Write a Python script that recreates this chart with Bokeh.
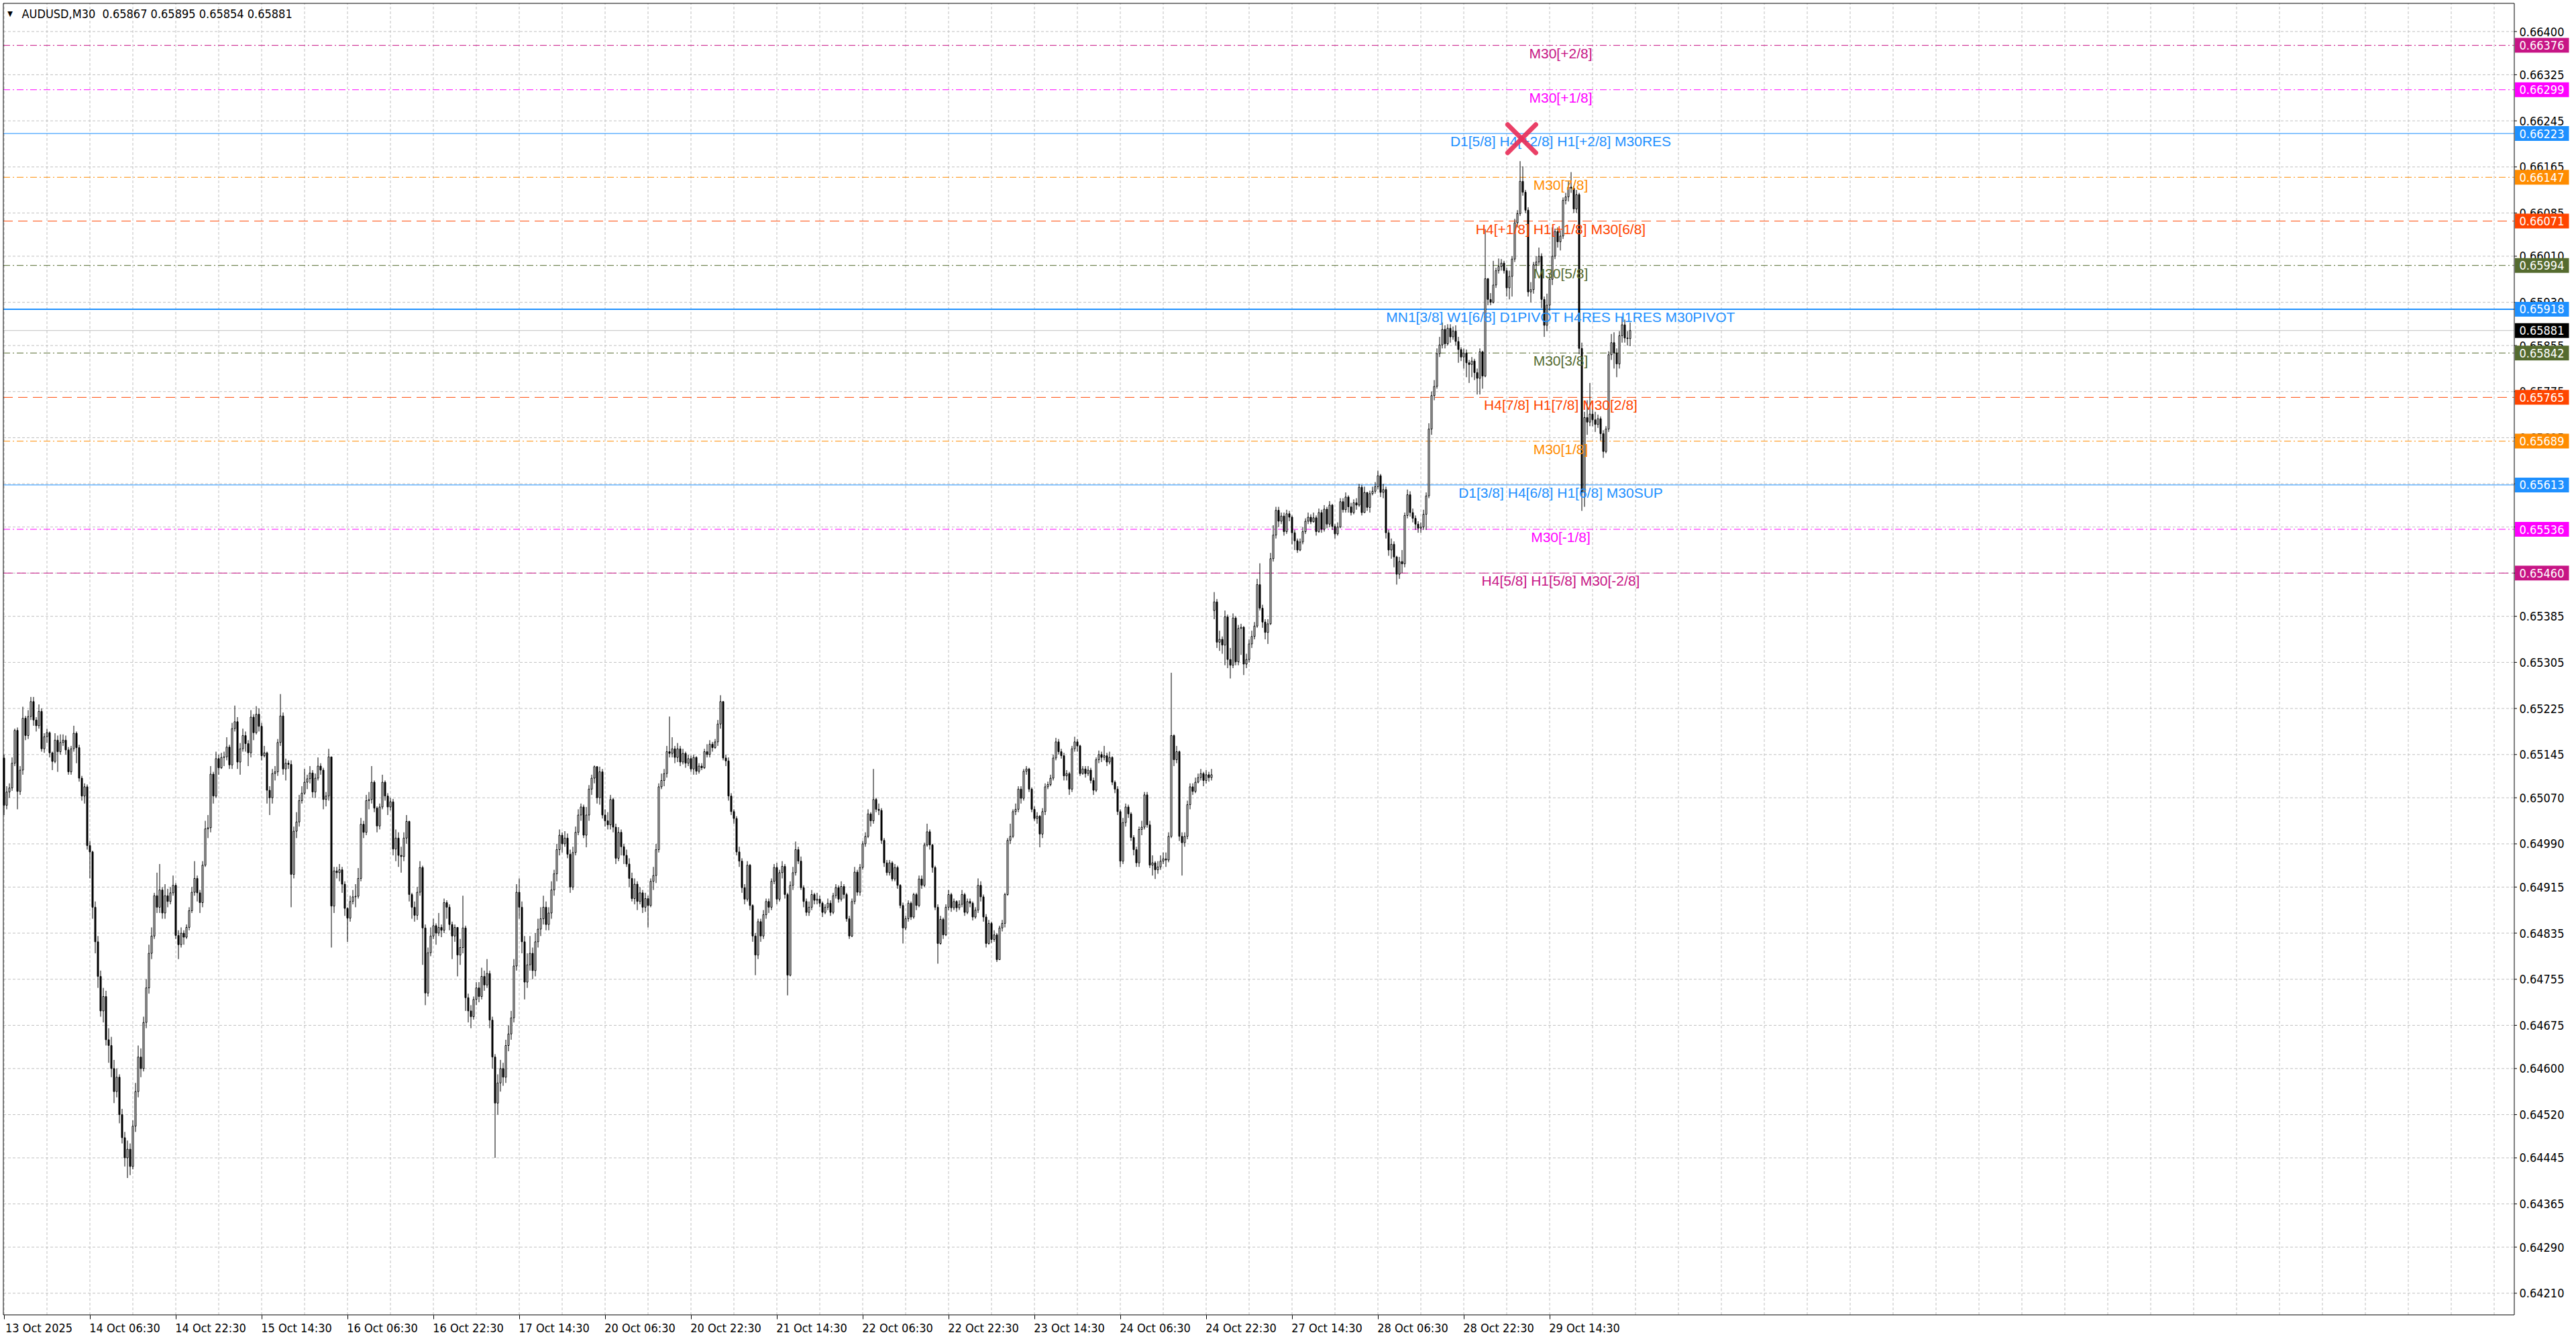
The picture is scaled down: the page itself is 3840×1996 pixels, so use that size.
from bokeh.plotting import figure
from bokeh.models import ColumnDataSource, FixedTicker
from bokeh.embed import file_html
from bokeh.resources import INLINE
from bokeh.core.properties import value

# ------------------------------------------------------------------ data
header_symbol = "AUDUSD,M30"
header_ohlc = ["0.65867", "0.65895", "0.65854", "0.65881"]

x_tick_labels = ["13 Oct 2025", "14 Oct 06:30", "14 Oct 22:30", "15 Oct 14:30", "16 Oct 06:30",
                 "16 Oct 22:30", "17 Oct 14:30", "20 Oct 06:30", "20 Oct 22:30", "21 Oct 14:30",
                 "22 Oct 06:30", "22 Oct 22:30", "23 Oct 14:30", "24 Oct 06:30", "24 Oct 22:30",
                 "27 Oct 14:30", "28 Oct 06:30", "28 Oct 22:30", "29 Oct 14:30"]
bars_per_x_label = 32
bars_per_grid = 16

price_ticks = [0.66400, 0.66325, 0.66245, 0.66165, 0.66085, 0.66010, 0.65930, 0.65855, 0.65775,
               0.65695, 0.65615, 0.65540, 0.65460, 0.65385, 0.65305, 0.65225, 0.65145, 0.65070,
               0.64990, 0.64915, 0.64835, 0.64755, 0.64675, 0.64600, 0.64520, 0.64445, 0.64365,
               0.64290, 0.64210]

level_prices = [0.66376, 0.66299, 0.66223, 0.66147, 0.66071, 0.65994, 0.65918,
                0.65842, 0.65765, 0.65689, 0.65613, 0.65536, 0.65460]
level_labels = ["M30[+2/8]", "M30[+1/8]", "D1[5/8] H4[+2/8] H1[+2/8] M30RES", "M30[7/8]",
                "H4[+1/8] H1[+1/8] M30[6/8]", "M30[5/8]",
                "MN1[3/8] W1[6/8] D1PIVOT H4RES H1RES M30PIVOT", "M30[3/8]",
                "H4[7/8] H1[7/8] M30[2/8]", "M30[1/8]", "D1[3/8] H4[6/8] H1[6/8] M30SUP",
                "M30[-1/8]", "H4[5/8] H1[5/8] M30[-2/8]"]
level_colors = ["#C71585", "#FF00FF", "#1E90FF", "#FF8C00", "#FF4500", "#556B2F", "#1E90FF",
                "#556B2F", "#FF4500", "#FF8C00", "#1E90FF", "#FF00FF", "#C71585"]
level_dashes = ["10 4 2 4", "10 4 2 4", "solid", "10 4 2 4", "14 8", "10 4 2 4", "solid",
                "10 4 2 4", "14 8", "10 4 2 4", "solid", "10 4 2 4", "14 6"]
level_widths = [1, 1, 1, 1, 1, 1, 2, 1, 1, 1, 1, 1, 1]

current_price = 0.65881
marker_bar = 565.6
marker_price = 0.66214

# M30 candles, prices in 1e-5 units; open of each bar = previous close
week1_open = 65139
week1_close = [
    65057, 65080, 65087, 65130, 65187, 65081, 65118, 65208, 65178, 65211, 65237, 65205, 65195, 65220, 65155, 65176,
    65183, 65148, 65133, 65170, 65150, 65166, 65170, 65153, 65115, 65155, 65182, 65157, 65104, 65073, 65089, 64987,
    64976, 64880, 64820, 64760, 64700, 64725, 64650, 64640, 64600, 64560, 64585, 64520, 64480, 64445, 64460, 64430,
    64500, 64560, 64620, 64600, 64680, 64740, 64800, 64830, 64900, 64880, 64910, 64870, 64900, 64890, 64905, 64918,
    64831, 64815, 64835, 64828, 64845, 64874, 64906, 64930, 64905, 64888, 64953, 65016, 65018, 65111, 65073, 65138,
    65122, 65140, 65141, 65158, 65127, 65190, 65202, 65132, 65155, 65178, 65164, 65148, 65210, 65183, 65215, 65194,
    65143, 65148, 65083, 65070, 65112, 65115, 65166, 65212, 65120, 65130, 65128, 64937, 65012, 65028, 65065, 65078,
    65097, 65103, 65113, 65080, 65104, 65125, 65118, 65067, 65073, 65141, 64882, 64943, 64940, 64945, 64920, 64878,
    64861, 64890, 64898, 64899, 64930, 65024, 65010, 65065, 65067, 65097, 65052, 65021, 65054, 65097, 65073, 65054,
    65063, 64981, 65000, 64970, 64968, 65000, 65029, 64902, 64880, 64866, 64906, 64949, 64844, 64731, 64801, 64830,
    64848, 64835, 64845, 64840, 64888, 64880, 64850, 64830, 64845, 64797, 64810, 64844, 64723, 64700, 64690, 64720,
    64740, 64725, 64760, 64745, 64765, 64684, 64620, 64540, 64575, 64600, 64585, 64640, 64660, 64688, 64778, 64906,
    64880, 64820, 64750, 64780, 64800, 64770, 64820, 64842, 64860, 64880, 64850, 64870, 64910, 64938, 64980, 65005,
    64990, 65000, 64972, 64915, 64975, 65010, 65040, 65054, 65005, 65040, 65085, 65104, 65124, 65070, 65115, 65040,
    65030, 65023, 65067, 65019, 64965, 65010, 64985, 64970, 64955, 64930, 64895, 64920, 64890, 64905, 64880, 64895,
    64883, 64925, 64935,
    64980, 65089, 65100, 65112, 65150, 65147, 65155, 65140, 65155, 65132, 65147, 65130, 65138, 65120, 65140, 65116,
    65125, 65122, 65150, 65145, 65163, 65157, 65167, 65198, 65237, 65139, 65134, 65073, 65046, 65034, 64976, 64960,
    64914, 64894, 64953, 64883, 64830, 64797, 64855, 64830, 64867, 64890, 64880, 64925, 64949, 64894, 64940, 64951,
    64902, 64762, 64918, 64940, 64980, 64960, 64914, 64890, 64871, 64880, 64902, 64892, 64894, 64887, 64871, 64880,
    64887,
    64871, 64900, 64914, 64894, 64916, 64902, 64860, 64830, 64890, 64941, 64906, 64949, 64990, 65003, 65042, 65030,
    65067, 65050, 65048, 64996, 64957, 64940, 64957, 64929, 64949, 64918, 64883, 64844, 64860, 64887, 64863, 64902,
    64883, 64929, 64918, 64988, 65011, 64988, 64949, 64880, 64817, 64859, 64832, 64880, 64902, 64879, 64890, 64879,
    64885, 64902, 64871, 64890, 64887, 64863, 64875, 64918, 64898, 64863, 64817, 64852, 64824, 64832, 64789, 64844,
    64852, 64902, 64996, 65003, 65046, 65050, 65085, 65069, 65116, 65120, 65085, 65050, 65034, 65038, 65007, 65046,
    65089, 65093, 65104, 65139, 65167, 65150, 65143, 65108, 65112, 65085, 65155, 65167, 65160, 65112, 65120, 65112,
    65118, 65100, 65083, 65136, 65145, 65140, 65143, 65132, 65140, 65097, 65085, 65046, 64960, 65027, 65054, 65042,
    65001, 64980, 64957, 65015, 65019, 65075, 65023, 64953, 64957, 64945, 64950, 64960, 64964, 64962, 65003, 65178,
    65136, 65150, 65003, 64992, 65003, 65058, 65089, 65081, 65097, 65105, 65112, 65100,
    65110, 65105, 65110]
week1_high = [
    65145, 65090, 65095, 65140, 65190, 65192, 65125, 65228, 65212, 65222, 65245, 65245, 65210, 65232, 65225, 65182,
    65190, 65185, 65150, 65182, 65178, 65180, 65180, 65178, 65158, 65160, 65195, 65185, 65162, 65108, 65095, 65093,
    64995, 64978, 64890, 64830, 64770, 64740, 64735, 64670, 64655, 64615, 64600, 64590, 64530, 64490, 64475, 64470,
    64510, 64575, 64640, 64635, 64690, 64755, 64815, 64845, 64905, 64940, 64955, 64915, 64920, 64912, 64915, 64935,
    64922, 64840, 64845, 64840, 64850, 64880, 64915, 64960, 64935, 64910, 64960, 65030, 65040, 65125, 65115, 65150,
    65145, 65148, 65150, 65175, 65162, 65200, 65230, 65210, 65165, 65190, 65185, 65170, 65222, 65215, 65229, 65225,
    65200, 65160, 65150, 65090, 65120, 65125, 65172, 65250, 65218, 65138, 65135, 65135, 65020, 65045, 65075, 65090,
    65120, 65110, 65125, 65118, 65112, 65140, 65130, 65122, 65080, 65155, 65140, 64950, 64950, 64955, 64950, 64925,
    64880, 64900, 64910, 64920, 64948, 65035, 65030, 65075, 65080, 65125, 65100, 65055, 65060, 65110, 65100, 65078,
    65070, 65068, 65015, 65010, 64985, 65010, 65040, 65030, 64905, 64890, 64915, 64960, 64952, 64850, 64810, 64845,
    64860, 64852, 64870, 64850, 64895, 64892, 64885, 64855, 64850, 64840, 64825, 64900, 64848, 64730, 64710, 64725,
    64750, 64750, 64775, 64770, 64790, 64770, 64690, 64625, 64590, 64615, 64610, 64650, 64675, 64700, 64790, 64920,
    64930, 64890, 64830, 64800, 64830, 64810, 64835, 64860, 64880, 64900, 64890, 64880, 64925, 64945, 64990, 65015,
    65010, 65012, 65008, 64980, 64985, 65020, 65050, 65060, 65058, 65054, 65092, 65110, 65126, 65125, 65124, 65120,
    65050, 65045, 65075, 65070, 65025, 65019, 65015, 64990, 64980, 64965, 64940, 64930, 64925, 64915, 64910, 64905,
    64900, 64930, 64950,
    64990, 65095, 65112, 65120, 65160, 65211, 65175, 65160, 65165, 65160, 65155, 65150, 65145, 65143, 65145, 65142,
    65130, 65130, 65155, 65163, 65170, 65167, 65172, 65205, 65248, 65237, 65145, 65140, 65078, 65050, 65038, 64985,
    64965, 64920, 64960, 64955, 64885, 64835, 64860, 64860, 64875, 64895, 64895, 64930, 64955, 64957, 64945, 64960,
    64955, 64905, 64925, 64950, 64994, 64985, 64968, 64918, 64895, 64890, 64910, 64905, 64905, 64900, 64890, 64885,
    64895,
    64892, 64905, 64920, 64918, 64925, 64920, 64905, 64865, 64895, 64950, 64945, 64955, 64995, 65010, 65050, 65045,
    65120, 65070, 65060, 65052, 65000, 64962, 64962, 64960, 64955, 64952, 64920, 64888, 64865, 64892, 64890, 64905,
    64905, 64935, 64935, 64992, 65025, 65015, 64990, 64952, 64885, 64865, 64862, 64885, 64910, 64905, 64895, 64892,
    64892, 64910, 64905, 64895, 64895, 64890, 64880, 64930, 64925, 64902, 64868, 64858, 64855, 64840, 64835, 64848,
    64858, 64905, 65000, 65025, 65050, 65060, 65090, 65090, 65120, 65125, 65122, 65088, 65055, 65045, 65040, 65052,
    65095, 65098, 65110, 65145, 65174, 65172, 65155, 65148, 65118, 65115, 65160, 65176, 65172, 65162, 65125, 65125,
    65125, 65122, 65105, 65140, 65152, 65150, 65160, 65148, 65150, 65142, 65100, 65090, 65050, 65035, 65060, 65058,
    65045, 65005, 64985, 65020, 65030, 65080, 65080, 65030, 64970, 64960, 64960, 64970, 64975, 64975, 65010, 65287,
    65180, 65160, 65152, 65010, 65010, 65065, 65095, 65095, 65105, 65112, 65120, 65115,
    65118, 65115, 65120]
week1_low = [
    65040, 65050, 65070, 65082, 65125, 65050, 65075, 65110, 65170, 65172, 65205, 65195, 65185, 65190, 65150, 65148,
    65165, 65140, 65118, 65130, 65115, 65145, 65160, 65145, 65110, 65110, 65150, 65130, 65098, 65065, 65060, 64980,
    64930, 64860, 64800, 64740, 64690, 64680, 64640, 64610, 64585, 64540, 64550, 64505, 64470, 64430, 64410, 64415,
    64425, 64490, 64550, 64585, 64595, 64670, 64730, 64790, 64825, 64870, 64870, 64860, 64860, 64880, 64885, 64900,
    64825, 64790, 64810, 64815, 64825, 64840, 64870, 64900, 64890, 64870, 64880, 64950, 65000, 65010, 65060, 65070,
    65110, 65120, 65125, 65135, 65120, 65120, 65185, 65120, 65110, 65150, 65150, 65125, 65140, 65170, 65180, 65185,
    65135, 65140, 65060, 65040, 65060, 65100, 65108, 65160, 65110, 65100, 65120, 64880, 64930, 65000, 65020, 65060,
    65075, 65085, 65095, 65070, 65070, 65100, 65110, 65050, 65055, 65065, 64810, 64870, 64930, 64925, 64905, 64865,
    64820, 64855, 64885, 64880, 64895, 64925, 65000, 65005, 65050, 65060, 65045, 65010, 65015, 65050, 65065, 65040,
    65048, 64970, 64960, 64950, 64940, 64960, 64990, 64890, 64860, 64855, 64858, 64900, 64780, 64710, 64725, 64795,
    64825, 64815, 64830, 64828, 64835, 64860, 64840, 64790, 64820, 64760, 64780, 64800, 64700, 64680, 64670, 64685,
    64710, 64715, 64720, 64735, 64740, 64670, 64600, 64445, 64520, 64560, 64570, 64575, 64630, 64650, 64680, 64770,
    64860, 64800, 64720, 64740, 64770, 64755, 64760, 64810, 64830, 64850, 64840, 64840, 64860, 64900, 64925, 64970,
    64975, 64985, 64965, 64905, 64910, 64970, 65005, 65030, 65000, 64984, 65030, 65075, 65095, 65060, 65058, 65034,
    65020, 65015, 65015, 65010, 64955, 64960, 64970, 64955, 64950, 64915, 64890, 64885, 64875, 64885, 64870, 64872,
    64845, 64880, 64910,
    64922, 64975, 65085, 65090, 65105, 65140, 65140, 65130, 65132, 65125, 65128, 65122, 65125, 65115, 65110, 65110,
    65112, 65118, 65120, 65140, 65140, 65150, 65155, 65160, 65190, 65135, 65125, 65065, 65040, 65025, 64970, 64950,
    64905, 64885, 64890, 64875, 64820, 64762, 64790, 64820, 64825, 64860, 64870, 64875, 64920, 64885, 64890, 64930,
    64895, 64727, 64760, 64910, 64935, 64955, 64910, 64880, 64865, 64865, 64875, 64885, 64885, 64880, 64863, 64868,
    64875,
    64865, 64868, 64895, 64888, 64890, 64895, 64855, 64825, 64828, 64885, 64900, 64900, 64945, 64985, 65000, 65020,
    65025, 65045, 65040, 64990, 64950, 64935, 64935, 64925, 64925, 64912, 64878, 64817, 64840, 64855, 64858, 64860,
    64875, 64880, 64912, 64915, 64985, 64980, 64940, 64875, 64782, 64815, 64825, 64830, 64875, 64872, 64875, 64872,
    64875, 64880, 64865, 64868, 64880, 64857, 64860, 64870, 64890, 64855, 64810, 64815, 64818, 64820, 64785, 64789,
    64838, 64845, 64900, 64990, 65000, 65040, 65045, 65060, 65065, 65110, 65080, 65045, 65030, 65025, 64984, 65000,
    65040, 65085, 65090, 65100, 65135, 65145, 65138, 65100, 65100, 65075, 65080, 65150, 65150, 65108, 65110, 65105,
    65108, 65095, 65075, 65080, 65130, 65132, 65135, 65125, 65128, 65092, 65078, 65040, 64950, 64955, 65020, 65035,
    64995, 64970, 64950, 64950, 65005, 65015, 65018, 64948, 64935, 64929, 64938, 64945, 64955, 64950, 64958, 65000,
    65125, 65130, 64995, 64935, 64985, 64998, 65050, 65075, 65078, 65095, 65100, 65090,
    65095, 65098, 65100]

week2_open = 65395
week2_close = [
    65410, 65340, 65345, 65335, 65384, 65310, 65300, 65382, 65306, 65364, 65366, 65302, 65310, 65337, 65350, 65368,
    65440, 65399, 65375, 65357, 65372, 65485, 65526, 65569, 65550, 65559, 65532, 65563, 65557, 65530, 65516, 65500,
    65514, 65532, 65550, 65557, 65549, 65556, 65532, 65565, 65536, 65571, 65545, 65578, 65541, 65528, 65540, 65584,
    65570, 65592, 65575, 65565, 65582, 65578, 65609, 65565, 65600, 65574, 65598, 65602, 65610, 65629, 65600, 65605,
    65530, 65500, 65510, 65488, 65458, 65480, 65476, 65560, 65596, 65565, 65555, 65545, 65538, 65540, 65562, 65594,
    65710, 65768, 65784, 65841, 65856, 65883, 65858, 65885, 65870, 65880, 65862, 65848, 65835, 65842, 65825, 65822,
    65828, 65808, 65798, 65844, 65802, 65971, 65935, 65930, 65960, 65985, 65992, 65998, 65985, 65955, 65975, 66005,
    66068, 66084, 66140, 66121, 66090, 65948, 65952, 65995, 66000, 66010, 65935, 65890, 65925, 65970, 66010, 66053,
    66035, 66045, 66107, 66113, 66130, 66128, 66092, 66117, 65850, 65600, 65730, 65722, 65736, 65726, 65718, 65728,
    65702, 65671, 65710, 65839, 65860, 65842, 65823, 65872, 65891, 65868, 65867, 65881]
week2_high = [
    65427, 65415, 65360, 65350, 65395, 65388, 65330, 65390, 65385, 65370, 65372, 65368, 65320, 65345, 65360, 65375,
    65450, 65477, 65405, 65380, 65380, 65495, 65543, 65575, 65575, 65565, 65565, 65570, 65568, 65560, 65535, 65520,
    65520, 65540, 65555, 65565, 65562, 65565, 65560, 65572, 65570, 65578, 65575, 65585, 65580, 65545, 65548, 65590,
    65590, 65600, 65595, 65582, 65588, 65590, 65615, 65613, 65610, 65600, 65603, 65610, 65618, 65638, 65632, 65615,
    65610, 65535, 65520, 65515, 65490, 65488, 65500, 65565, 65605, 65602, 65572, 65560, 65550, 65548, 65570, 65600,
    65720, 65775, 65795, 65850, 65870, 65895, 65890, 65892, 65892, 65888, 65890, 65870, 65852, 65850, 65848, 65830,
    65835, 65832, 65815, 65850, 65846, 66057, 65972, 65946, 66002, 65990, 66006, 66005, 66002, 65990, 65985, 66010,
    66075, 66090, 66175, 66166, 66125, 66095, 65965, 66000, 66010, 66025, 66015, 65940, 65945, 65980, 66060, 66058,
    66060, 66055, 66112, 66120, 66140, 66156, 66132, 66125, 66120, 65860, 65740, 65760, 65790, 65745, 65740, 65735,
    65732, 65708, 65715, 65845, 65875, 65878, 65850, 65880, 65905, 65900, 65880, 65895]
week2_low = [
    65380, 65330, 65325, 65320, 65300, 65295, 65277, 65295, 65300, 65300, 65318, 65283, 65295, 65305, 65330, 65345,
    65365, 65395, 65365, 65345, 65337, 65370, 65480, 65520, 65540, 65545, 65525, 65528, 65550, 65510, 65500, 65495,
    65498, 65510, 65528, 65545, 65545, 65548, 65525, 65530, 65530, 65532, 65538, 65540, 65535, 65520, 65525, 65538,
    65565, 65565, 65565, 65560, 65562, 65570, 65575, 65560, 65565, 65568, 65565, 65595, 65598, 65605, 65592, 65590,
    65520, 65490, 65485, 65470, 65440, 65450, 65460, 65470, 65555, 65558, 65548, 65535, 65530, 65530, 65535, 65535,
    65590, 65700, 65760, 65780, 65835, 65850, 65850, 65855, 65860, 65865, 65855, 65825, 65828, 65815, 65800, 65790,
    65800, 65795, 65770, 65770, 65780, 65800, 65925, 65925, 65928, 65955, 65980, 65985, 65980, 65940, 65935, 65940,
    66000, 66060, 66080, 66115, 66085, 65940, 65930, 65945, 65985, 65995, 65920, 65870, 65880, 65915, 65960, 66005,
    66025, 66020, 66040, 66100, 66105, 66120, 66085, 66085, 65840, 65568, 65575, 65700, 65715, 65715, 65705, 65712,
    65690, 65660, 65668, 65705, 65830, 65815, 65800, 65815, 65860, 65860, 65855, 65854]

# ------------------------------------------------------------------ layout (screen px)
BAR_PX = 4.0
PX_PER_PRICE = 85880.0
FRAME_W = 3838
FRAME_H = 1962
X0 = -5.5 / BAR_PX                 # bar 0 centred 5.5 px from the left edge
X1 = X0 + FRAME_W / BAR_PX
Y_TOP = 0.664 + 46.5 / PX_PER_PRICE
Y_BOT = Y_TOP - FRAME_H / PX_PER_PRICE

BOX_L, BOX_T, BOX_R, BOX_B = 4.5, 4.5, 3747.5, 1959.5   # chart window border
TAG_L, TAG_R, TAG_H = 3748.5, 3829.0, 22.0
SCALE_TEXT_X = 3755.0
CAPTION_X = 2326.0
XLABEL_SHIFT = 13

AXIS_FONT = "DejaVu Sans Condensed"
CAPTION_FONT = "Liberation Sans"
GRID_COLOR = "#C0C0C0"


def xs(px):
    return X0 + px / BAR_PX


def ys(py):
    return Y_TOP - py / PX_PER_PRICE


def session(open0, close, high, low):
    opens = [open0] + close[:-1]
    n = min(len(close), len(high), len(low))
    o, c = opens[:n], close[:n]
    h = [max(high[i], o[i], c[i]) for i in range(n)]
    l = [min(low[i], o[i], c[i]) for i in range(n)]
    return o, h, l, c


o1, h1, l1, c1 = session(week1_open, week1_close, week1_high, week1_low)
o2, h2, l2, c2 = session(week2_open, week2_close, week2_high, week2_low)
O = [v / 1e5 for v in o1 + o2]
H = [v / 1e5 for v in h1 + h2]
L = [v / 1e5 for v in l1 + l2]
C = [v / 1e5 for v in c1 + c2]
idx = list(range(len(C)))

src = ColumnDataSource(dict(
    x=idx, h=H, l=L,
    top=[max(O[i], C[i]) for i in idx],
    bottom=[min(O[i], C[i]) for i in idx],
    fill=["white" if C[i] >= O[i] else "black" for i in idx],
))

p = figure(frame_width=FRAME_W, frame_height=FRAME_H,
           x_range=(X0, X1), y_range=(Y_BOT, Y_TOP),
           output_backend="svg", toolbar_location=None,
           y_axis_location=None,
           min_border_left=0, min_border_top=0, min_border_right=0, min_border_bottom=26,
           background_fill_color="white", border_fill_color="white",
           outline_line_color=None)
p.xgrid.visible = False
p.ygrid.visible = False

xl, xr = xs(BOX_L), xs(BOX_R)
yt, yb = ys(BOX_T), ys(BOX_B)

# grid (dashed, only inside the chart window)
last_bar = int((BOX_R / BAR_PX) + X0)
grid_bars = list(range(0, last_bar + 1, bars_per_grid))
p.segment(x0=grid_bars, y0=[yb] * len(grid_bars), x1=grid_bars, y1=[yt] * len(grid_bars),
          line_color=GRID_COLOR, line_dash="4 3", line_width=1)
p.segment(x0=[xl] * len(price_ticks), y0=price_ticks, x1=[xr] * len(price_ticks), y1=price_ticks,
          line_color=GRID_COLOR, line_dash="4 3", line_width=1)

# level lines
for price, col, dash, w in zip(level_prices, level_colors, level_dashes, level_widths):
    p.segment(x0=[xl], y0=[price], x1=[xr], y1=[price], line_color=col, line_dash=dash, line_width=w)
p.segment(x0=[xl], y0=[current_price], x1=[xr], y1=[current_price], line_color="#C0C0C0", line_width=1)

# candles
p.segment(x0="x", y0="l", x1="x", y1="h", source=src, line_color="black", line_width=1)
p.vbar(x="x", width=0.5, top="top", bottom="bottom", source=src,
       fill_color="fill", line_color="black", line_width=1)

# window border + price-scale line
p.segment(x0=[xl, xl, xl, xr], y0=[yt, yb, yt, yt], x1=[xr, xr, xl, xr], y1=[yt, yb, yb, yb],
          line_color="black", line_width=1)

# level captions
cap_src = ColumnDataSource(dict(x=[xs(CAPTION_X)] * len(level_prices), y=level_prices,
                                text=level_labels, color=level_colors))
p.text(x="x", y="y", text="text", source=cap_src, text_color="color",
       text_font=value(CAPTION_FONT), text_font_size="21px",
       text_align="center", text_baseline="top", y_offset=0)

# high marker (red cross)
dx = 21 / BAR_PX
dy = 21 / PX_PER_PRICE
p.segment(x0=[marker_bar - dx, marker_bar - dx], y0=[marker_price + dy, marker_price - dy],
          x1=[marker_bar + dx, marker_bar + dx], y1=[marker_price - dy, marker_price + dy],
          line_color="#E8305A", line_width=7, line_cap="round", line_alpha=0.92)

# header
hy = ys(19.5)
p.text(x=[xs(14.5)], y=[hy], text=["\u25BC"], text_color="black",
       text_font=value(AXIS_FONT), text_font_size="11px",
       text_align="center", text_baseline="middle")
p.text(x=[xs(32)], y=[hy],
       text=[header_symbol + "\u00a0\u00a0" + " ".join(header_ohlc)], text_color="black",
       text_font=value(AXIS_FONT), text_font_size="18px",
       text_align="left", text_baseline="middle")

# price scale: ticks, labels, coloured tags
n_t = len(price_ticks)
p.segment(x0=[xr] * n_t, y0=price_ticks, x1=[xs(BOX_R + 4)] * n_t, y1=price_ticks,
          line_color="black", line_width=1)
p.text(x=[xs(SCALE_TEXT_X)] * n_t, y=price_ticks, text=[f"{v:.5f}" for v in price_ticks],
       text_color="black", text_font=value(AXIS_FONT), text_font_size="18px",
       text_align="left", text_baseline="middle")

tag_prices = level_prices + [current_price]
tag_colors = level_colors + ["#000000"]
n_g = len(tag_prices)
p.rect(x=[xs((TAG_L + TAG_R) / 2)] * n_g, y=tag_prices,
       width=(TAG_R - TAG_L) / BAR_PX, height=TAG_H / PX_PER_PRICE,
       fill_color=tag_colors, line_color=None)
p.text(x=[xs(SCALE_TEXT_X)] * n_g, y=tag_prices, text=[f"{v:.5f}" for v in tag_prices],
       text_color="white", text_font=value(AXIS_FONT), text_font_size="18px",
       text_align="left", text_baseline="middle")

# time axis (captions start at their tick)
tick_bars = [i * bars_per_x_label for i in range(len(x_tick_labels))]
xa = p.xaxis[0]
xa.ticker = FixedTicker(ticks=[t + XLABEL_SHIFT for t in tick_bars], minor_ticks=tick_bars)
xa.major_label_overrides = {t + XLABEL_SHIFT: lab for t, lab in zip(tick_bars, x_tick_labels)}
xa.major_tick_line_color = None
xa.major_tick_out = 0
xa.major_tick_in = 0
xa.minor_tick_line_color = "black"
xa.minor_tick_out = 4
xa.minor_tick_in = 2
xa.major_label_standoff = 2
xa.axis_line_color = None
xa.major_label_text_font = AXIS_FONT
xa.major_label_text_font_size = "18px"
xa.major_label_text_color = "black"

open("out.html", "w").write(file_html(p, INLINE))
